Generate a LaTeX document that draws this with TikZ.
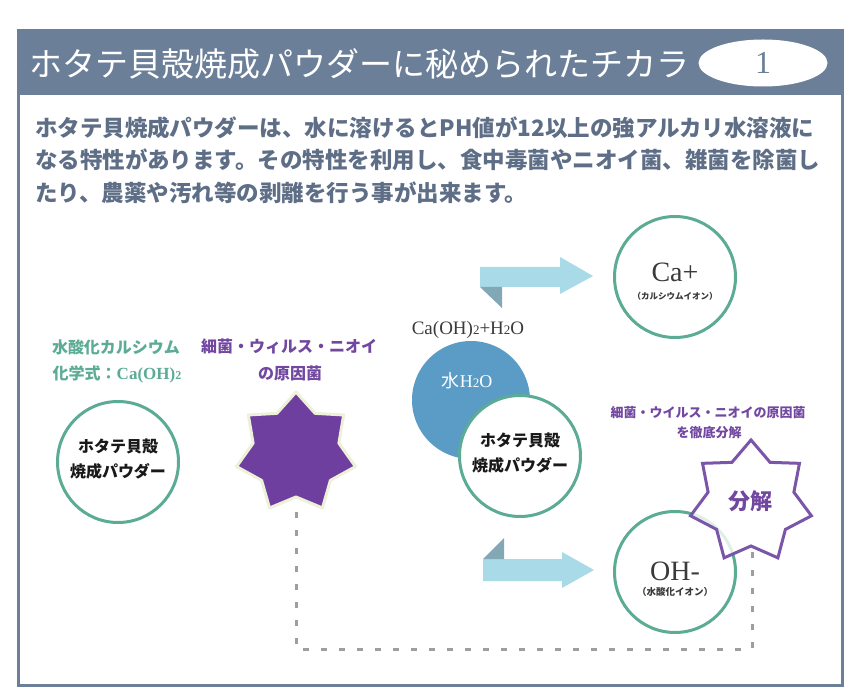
\documentclass[tikz,border=0pt]{standalone}
\usepackage{fontspec}
\usetikzlibrary{shapes.geometric}
\setmainfont{Liberation Serif}
\newfontfamily\jp{Noto Sans CJK JP}
\definecolor{framec}{HTML}{6B7F99}
\definecolor{bodytxt}{HTML}{5E6E86}
\definecolor{tealc}{HTML}{5CAB95}
\definecolor{purp}{HTML}{6F3FA0}
\definecolor{purptxt}{HTML}{7147A0}
\definecolor{starline}{HTML}{7A55A8}
\definecolor{cream}{HTML}{EDF1DA}
\definecolor{bluec}{HTML}{5B9CC6}
\definecolor{arrowc}{HTML}{A9DAE7}
\definecolor{foldc}{HTML}{82A8B6}
\definecolor{dashc}{HTML}{9E9E9E}
\definecolor{darktxt}{HTML}{3A3A3A}
\newcommand{\fs}[1]{\fontsize{#1}{#1}\selectfont}
\tikzset{
  txt/.style={inner sep=0pt, outer sep=0pt},
  bodyline/.style={txt, anchor=west, text=bodytxt, font=\jp\bfseries\fs{22.5}},
  ringc/.style={circle, draw=tealc, line width=3pt, fill=white, minimum size=121pt, inner sep=0pt},
  incircle/.style={txt, text=black!90, font=\jp\bfseries\fs{16}},
  teallabel/.style={txt, text=tealc, font=\jp\bfseries\fs{16}},
  purplabel/.style={txt, text=purptxt, font=\jp\bfseries\fs{16}},
  purpsmall/.style={txt, text=purptxt, font=\jp\bfseries\fs{13}},
  ionbig/.style={txt, text=darktxt, font=\fs{28}},
  ionsmall/.style={txt, text=darktxt, font=\jp\bfseries\fs{8.5}},
  bigarrow/.style={fill=arrowc},
  fold/.style={fill=foldc},
  dashline/.style={draw=dashc, line width=3pt, dash pattern=on 6pt off 12pt},
}
\begin{document}
\begin{tikzpicture}[x=1pt,y=-1pt]
\useasboundingbox (0,0) rectangle (860,700);
% frame and header
\fill[framec] (17,30) rectangle (843,95);
\draw[framec, line width=3pt] (18,31) rectangle (842,685);
\node[txt, anchor=west, text=white, font=\jp\fs{33}] (title) at (30,64) {ホタテ貝殻焼成パウダーに秘められたチカラ};
\node[ellipse, fill=white, minimum width=129pt, minimum height=47pt, inner sep=0pt] (num) at (763,63) {};
\node[txt, text=framec, font=\fs{32}] (numtxt) at (763,63) {1};
% body text
\node[bodyline] (l1) at (35,128) {ホタテ貝焼成パウダーは、水に溶けるとPH値が12以上の強アルカリ水溶液に};
\node[bodyline] (l2) at (35,160) {なる特性があります。その特性を利用し、食中毒菌やニオイ菌、雑菌を除菌し};
\node[bodyline] (l3) at (35,193) {たり、農薬や汚れ等の剥離を行う事が出来ます。};
% dashed connector
\coordinate (s1bot) at (296,512);
\coordinate (s2bot) at (752,548);
\coordinate (dbase) at (0,649);
\draw[dashline] (s1bot) -- (s1bot |- dbase) -- (s2bot |- dbase) -- (s2bot);
% left circle
\node[teallabel] (tl1) at (116,347) {水酸化カルシウム};
\node[teallabel] (tl2) at (117,374) {化学式：{\rmfamily\bfseries\fs{17}Ca(OH){\fs{12}2}}};
\node[ringc] (c1) at (118,462) {};
\node[incircle] (c1a) at (118,446) {ホタテ貝殻};
\node[incircle] (c1b) at (118,471) {焼成パウダー};
% purple filled star
\node[purplabel] (pl1) at (289,346) {細菌・ウィルス・ニオイ};
\node[purplabel] (pl2) at (290,373) {の原因菌};
\filldraw[fill=purp, draw=cream, line width=3pt, line join=round]
  plot[samples at={0,1,...,13}, variable=\k]
  ({296+ifthenelse(mod(\k,2)==0,61,44)*cos(270+\k*360/14)},
   {453+ifthenelse(mod(\k,2)==0,61,44)*sin(270+\k*360/14)}) -- cycle;
% middle
\node[txt, text=darktxt, font=\fs{19}] (eq) at (468,330) {Ca(OH){\fs{13}2}+H{\fs{13}2}O};
\node[circle, fill=bluec, minimum size=118pt, inner sep=0pt] (water) at (471,400) {};
\node[txt, text=white, font=\fs{18}] (watertxt) at (467,381) {{\jp 水}H{\fs{13}2}O};
\node[ringc] (c2) at (520,456) {};
\node[incircle] (c2a) at (520,440) {ホタテ貝殻};
\node[incircle] (c2b) at (520,465) {焼成パウダー};
% arrows
\fill[bigarrow] (480,267) -- (560,267) -- (560,257) -- (593,276) -- (560,294) -- (560,287) -- (480,287) -- cycle;
\fill[fold] (480,287) -- (502,287) -- (502,308) -- cycle;
\fill[bigarrow] (483,559) -- (562,559) -- (562,552) -- (594,570) -- (562,588) -- (562,581) -- (483,581) -- cycle;
\fill[fold] (483,559) -- (504,559) -- (504,538) -- cycle;
% ion circles
\node[ringc] (ca) at (675,277) {};
\node[ionbig] (catxt) at (675,272) {Ca+};
\node[ionsmall] (casub) at (675,296) {（カルシウムイオン）};
\node[ringc] (oh) at (675,572) {};
\node[ionbig] (ohtxt) at (675,571) {OH-};
\node[ionsmall, font=\jp\bfseries\fs{9.5}] (ohsub) at (675,592) {（水酸化イオン）};
% outline star
\node[purpsmall] (ql1) at (708,413) {細菌・ウイルス・ニオイの原因菌};
\node[purpsmall] (ql2) at (709,433) {を徹底分解};
\filldraw[fill=white, fill opacity=0.8, draw=starline, line width=3pt, line join=miter]
  plot[samples at={0,1,...,13}, variable=\k]
  ({751+ifthenelse(mod(\k,2)==0,62,44)*cos(270+\k*360/14)},
   {502+ifthenelse(mod(\k,2)==0,62,44)*sin(270+\k*360/14)}) -- cycle;
\node[txt, text=purptxt, font=\jp\bfseries\fs{22}] (bunkai) at (750,501) {分解};
\end{tikzpicture}
\end{document}
